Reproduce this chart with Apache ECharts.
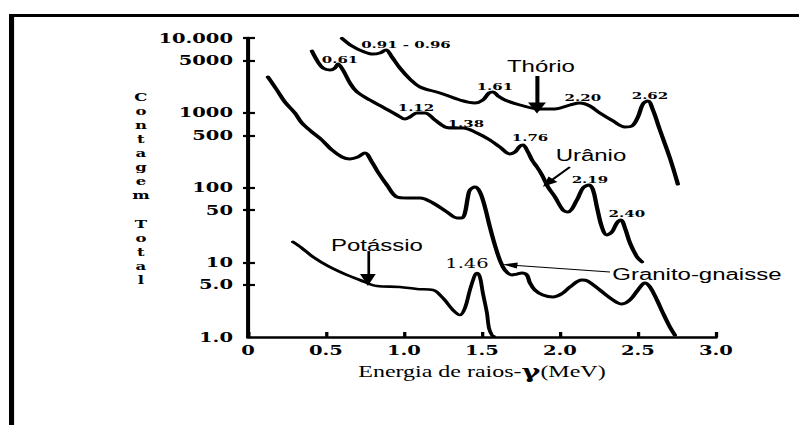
<!DOCTYPE html>
<html>
<head>
<meta charset="utf-8">
<script src="https://cdn.jsdelivr.net/npm/echarts@6/dist/echarts.min.js"></script>
<style>
  html, body { margin: 0; padding: 0; background: #fff; overflow: hidden; }
  /* the figure is laid out narrow and widened horizontally as a whole */
  #chart { width: 533px; height: 425px; transform: scaleX(1.499); transform-origin: 0 0; }
</style>
</head>
<body>
<div id="chart"></div>
<script>
// Gamma-ray spectra: energy (MeV) and total counts for each curve
const thorioEnergy = [0.603,0.667,0.731,0.801,0.846,0.885,0.923,0.974,1.038,1.103,1.231,1.359,1.455,1.506,1.545,1.571,1.603,1.647,1.744,1.872,1.968,2.064,2.128,2.192,2.256,2.340,2.417,2.462,2.500,2.532,2.564,2.596,2.641,2.705,2.756];
const thorioCount  = [9900,7800,6700,6100,6300,6900,5570,3970,2830,2210,1840,1480,1350,1480,1840,1900,1675,1480,1270,1120,1120,1270,1350,1230,990,776,645,665,877,1310,1436,1089,588,248,111];

const uranioEnergy = [0.410,0.449,0.481,0.526,0.558,0.577,0.609,0.654,0.699,0.782,0.865,0.955,1.006,1.038,1.083,1.135,1.199,1.263,1.314,1.378,1.468,1.551,1.615,1.679,1.712,1.744,1.763,1.795,1.821,1.853,1.885,1.923,1.968,2.019,2.051,2.109,2.147,2.186,2.212,2.237,2.269,2.301,2.333,2.365,2.391,2.417,2.449,2.494,2.526];
const uranioCount  = [6700,4780,3970,3730,3970,4490,3730,2500,1900,1480,1190,933,825,877,992,992,800,645,625,625,536,432,348,281,298,359,370,298,233,188,147,102,75,50,47,68,98,108,93,55,29.6,23.2,25.4,33.5,36.7,28.7,18.1,11.8,10.1];

const granitoEnergy = [0.128,0.186,0.237,0.301,0.346,0.410,0.474,0.538,0.603,0.654,0.705,0.750,0.795,0.833,0.891,0.955,1.019,1.103,1.186,1.276,1.340,1.372,1.391,1.410,1.423,1.455,1.487,1.519,1.551,1.583,1.615,1.647,1.692,1.724,1.756,1.788,1.808,1.840,1.891,1.955,2.019,2.064,2.141,2.179,2.256,2.340,2.397,2.449,2.500,2.545,2.577,2.622,2.660,2.705,2.737];
const granitoCount  = [3010,2015,1393,992,729,553,432,318,256,241,256,290,219,161,108,74.6,72.4,72.4,62,47,39.1,39.1,45.6,74.6,92.6,101.5,87,54.8,29.6,17,10.7,7.88,6.75,6.96,7.18,6.75,5.28,4.25,3.65,3.43,3.88,4.67,5.79,5.61,4.25,3.13,2.76,3.13,4.25,5.28,4.67,3.13,2.10,1.36,1.06];

const potassioEnergy = [0.288,0.346,0.417,0.513,0.635,0.718,0.827,0.974,1.083,1.186,1.250,1.314,1.359,1.391,1.423,1.455,1.468,1.487,1.506,1.532,1.545,1.564,1.577];
const potassioCount  = [18.7,15.5,11.8,8.91,6.75,5.79,4.81,4.67,4.39,4.25,3.32,2.30,1.97,2.44,4.25,6.75,7.18,6.35,3.88,2.10,1.32,1.06,1.02];

// Axis ticks
const yTickValues = [1, 5, 10, 50, 100, 500, 1000, 5000, 10000];
const yTickLabels = ['1.0', '5.0', '10', '50', '100', '500', '1000', '5000', '10.000'];
const xTickLabels = ['0', '0.5', '1.0', '1.5', '2.0', '2.5', '3.0'];

// Peak energy annotations: [text, energy, count]
const peakNotes = [
  ['0.91 - 0.96', 1.013, 8310],
  ['0.61', 0.590, 5240],
  ['1.12', 1.077, 1194],
  ['1.38', 1.397, 729],
  ['1.61', 1.583, 2280],
  ['2.20', 2.147, 1625],
  ['2.62', 2.577, 1727],
  ['1.76', 1.808, 474],
  ['2.19', 2.192, 130],
  ['2.40', 2.429, 45.6]
];
const potassioPeakNote = ['1.46', 1.404, 9.48];

// Curve names: [text, energy, count]
const curveNames = [
  ['Thório', 1.878, 4220],
  ['Urânio', 2.199, 272],
  ['Potássio', 0.827, 16.5],
  ['Granito-gnaisse', 2.878, 6.96]
];

// Pointer arrows: [fromEnergy, fromCount, toEnergy, toCount]
const arrowPaths = [
  [1.853, 3100, 1.853, 1158],
  [2.064, 188, 1.923, 115],
  [0.769, 14.1, 0.769, 5.79],
  [2.321, 7.41, 1.679, 9.19]
];

const serif = 'DejaVu Serif';
const sans = 'Liberation Sans';

function pairs(e, c) { return e.map((v, i) => [v, c[i]]); }

function tickText(v) {
  for (let i = 0; i < yTickValues.length; i++) {
    if (Math.abs(Math.log10(v) - Math.log10(yTickValues[i])) < 1e-6) return yTickLabels[i];
  }
  return '';
}

function curve(name, e, c, w) {
  return {
    type: 'line', name: name, data: pairs(e, c),
    symbol: 'none', showSymbol: false, smooth: 0.35,
    lineStyle: { color: '#000', width: w, join: 'round', cap: 'round' },
    silent: true, z: 3
  };
}

const noteStyle = (text, fam, size, weight) => ({
  show: true, position: 'inside', formatter: text, color: '#000',
  fontFamily: fam, fontSize: size, fontWeight: weight
});

const marks = []
  .concat(peakNotes.map(p => ({ coord: [p[1], p[2]], label: noteStyle(p[0], serif, 10, 'bold') })))
  .concat([{ coord: [potassioPeakNote[1], potassioPeakNote[2]], label: noteStyle(potassioPeakNote[0], serif, 13, 'normal') }])
  .concat(curveNames.map(p => ({ coord: [p[1], p[2]], label: noteStyle(p[0], sans, 16, 'normal') })));

const arrowLook = [
  { width: 2.7, head: [12, 11] },
  { width: 1.8, head: [8, 10] },
  { width: 1.8, head: [10.5, 12] },
  { width: 1.1, head: [6, 10] }
];

const arrowLines = arrowPaths.map((a, i) => [
  { coord: [a[0], a[1]], symbol: 'none', lineStyle: { color: '#000', width: arrowLook[i].width, type: 'solid' } },
  { coord: [a[2], a[3]], symbol: 'triangle', symbolSize: arrowLook[i].head, itemStyle: { color: '#000' } }
]);

const thorio = curve('Thório', thorioEnergy, thorioCount, 2.9);
thorio.markPoint = {
  silent: true, animation: false,
  symbol: 'circle', symbolSize: 1, itemStyle: { color: 'rgba(0,0,0,0)' },
  data: marks
};
thorio.markLine = {
  silent: true, animation: false,
  symbol: ['none', 'triangle'],
  label: { show: false },
  lineStyle: { color: '#000', type: 'solid' },
  itemStyle: { color: '#000' },
  data: arrowLines
};

const chart = echarts.init(document.getElementById('chart'), null, { renderer: 'svg' });

chart.setOption({
  animation: false,
  backgroundColor: '#fff',
  grid: { left: 165.4, right: 55.4, top: 38, bottom: 88, containLabel: false },
  xAxis: {
    type: 'value', min: 0, max: 3, interval: 0.5,
    name: '{a|Energia de raios-}{g|γ}{a|(MeV)}',
    nameLocation: 'middle', nameGap: 24,
    nameTextStyle: {
      rich: {
        a: { fontFamily: 'Liberation Serif', fontSize: 16, color: '#000', lineHeight: 20 },
        g: { fontFamily: serif, fontWeight: 'bold', fontSize: 19, color: '#000', lineHeight: 20 }
      }
    },
    axisLine: { show: true, onZero: false, lineStyle: { color: '#000', width: 2.7 } },
    axisTick: { show: true, inside: true, length: 5, lineStyle: { color: '#000', width: 2.2 } },
    axisLabel: {
      margin: 7, color: '#000', fontFamily: serif, fontWeight: 'bold', fontSize: 13,
      formatter: v => xTickLabels[Math.round(v / 0.5)]
    },
    splitLine: { show: false }
  },
  yAxis: [
    {
      type: 'log', logBase: 10, min: 1, max: 10000,
      axisLine: { show: true, lineStyle: { color: '#000', width: 2.7 } },
      axisTick: { show: true, inside: false, length: 3.3, customValues: yTickValues.slice(1), lineStyle: { color: '#000', width: 2.2 } },
      axisLabel: {
        margin: 10, color: '#000', fontFamily: serif, fontWeight: 'bold', fontSize: 13,
        customValues: yTickValues, formatter: tickText
      },
      splitLine: { show: false },
      minorTick: { show: false }
    },
    {
      type: 'log', logBase: 10, min: 1, max: 10000, position: 'left', offset: 0,
      axisLine: { show: false },
      axisTick: { show: true, inside: true, length: 4.7, customValues: yTickValues.slice(1), lineStyle: { color: '#000', width: 2.2 } },
      axisLabel: { show: false },
      splitLine: { show: false }
    }
  ],
  graphic: [
    { type: 'rect', shape: { x: 6, y: 14, width: 527, height: 3 }, style: { fill: '#000' }, silent: true },
    { type: 'rect', shape: { x: 6, y: 14, width: 3.4, height: 411 }, style: { fill: '#000' }, silent: true },
    {
      type: 'text', x: 94, y: 188.5, silent: true,
      style: {
        text: 'C\no\nn\nt\na\ng\ne\nm\n \nT\no\nt\na\nl',
        fill: '#000', font: 'bold 11px "DejaVu Serif"',
        align: 'center', verticalAlign: 'middle', lineHeight: 14.1
      }
    }
  ],
  series: [
    thorio,
    curve('Urânio', uranioEnergy, uranioCount, 2.9),
    curve('Granito-gnaisse', granitoEnergy, granitoCount, 2.9),
    curve('Potássio', potassioEnergy, potassioCount, 2.6)
  ]
});
</script>
</body>
</html>
